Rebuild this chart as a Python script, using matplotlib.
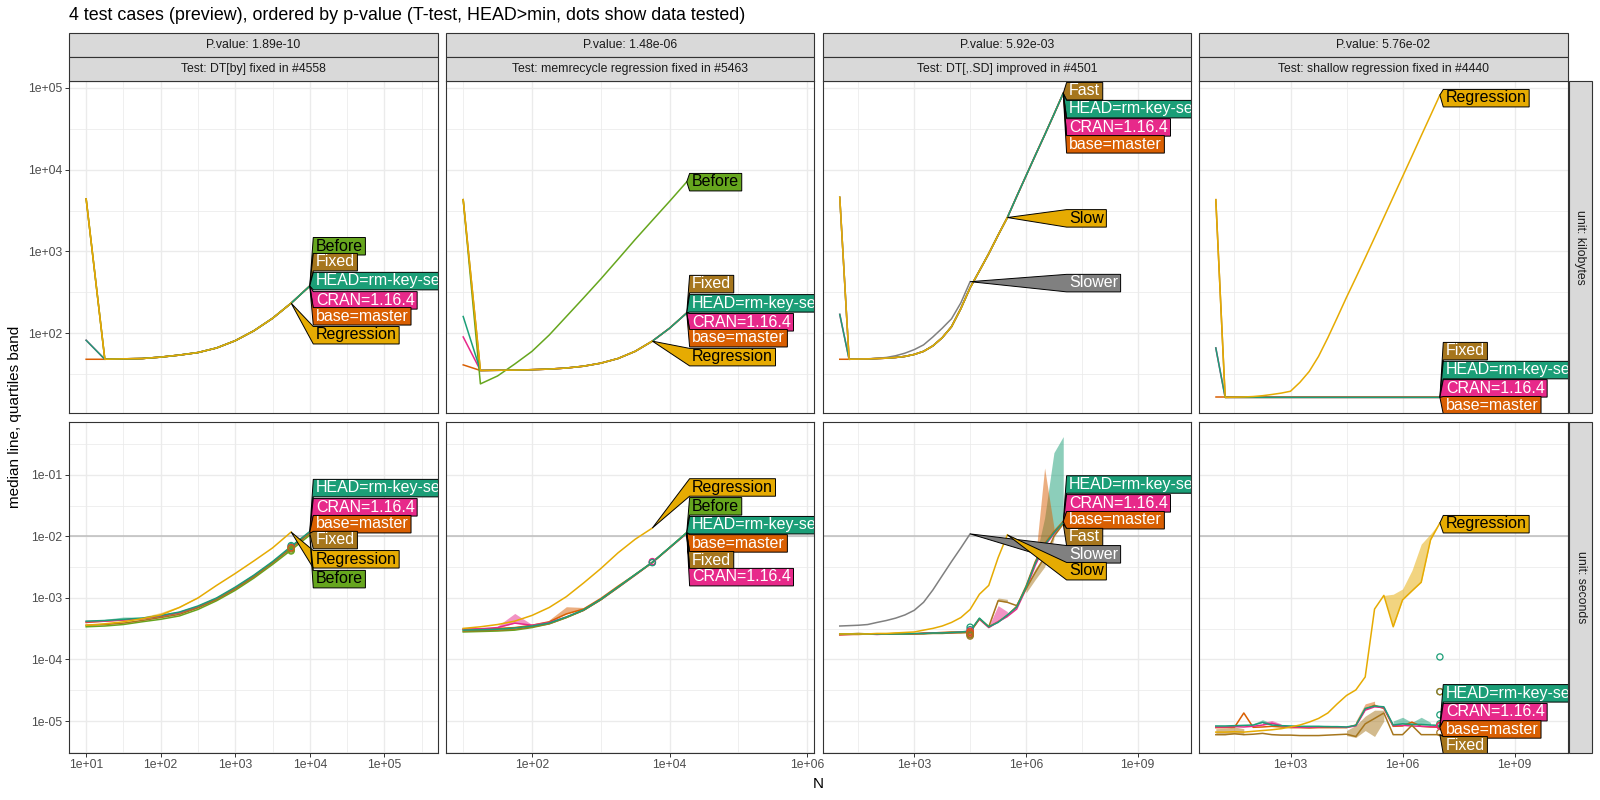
"""Recreate the atime preview chart: 4 test cases, median line and quartile band per version."""

import matplotlib

matplotlib.use("Agg")
import matplotlib.pyplot as plt
from matplotlib.patches import Polygon, Rectangle
from matplotlib.ticker import NullFormatter
from matplotlib.transforms import IdentityTransform

plt.rcParams["font.family"] = ["Liberation Sans", "DejaVu Sans"]

TITLE = "4 test cases (preview), ordered by p-value (T-test, HEAD>min, dots show data tested)"
P_VALUES = ["P.value: 1.89e-10", "P.value: 1.48e-06", "P.value: 5.92e-03", "P.value: 5.76e-02"]
TESTS = [
    "Test: DT[by] fixed in #4558",
    "Test: memrecycle regression fixed in #5463",
    "Test: DT[,.SD] improved in #4501",
    "Test: shallow regression fixed in #4440",
]
UNITS = ["unit: kilobytes", "unit: seconds"]

HEAD, CRAN, BASE = "HEAD=rm-key-set", "CRAN=1.16.4", "base=master"

COLORS = {
    HEAD: "#1B9E77", CRAN: "#E7298A", BASE: "#D95F02", "Before": "#66A61E",
    "Regression": "#E6AB02", "Slow": "#E6AB02", "Fixed": "#A6761D", "Fast": "#A6761D",
    "Slower": "#808080",
}
DARK_TEXT = {"Before", "Regression", "Slow"}
DRAW_ORDER = [BASE, CRAN, "Before", "Fixed", "Fast", HEAD, "Slower", "Slow", "Regression"]

# ---------------- column 1: DT[by] ----------------
C1_N = [10, 17.8, 31.6, 56.2, 100, 178, 316, 562, 1000, 1778, 3162, 5623, 10000]
C1_KB = {
    BASE: [48, 48, 48.6, 49, 51, 54, 58, 66, 81, 107, 152, 233, 378],
    CRAN: [82, 48, 48.6, 49, 51, 54, 58, 66, 81, 107, 152, 233, 378],
    "Before": [4400, 48, 48.6, 49, 51, 54, 58, 66, 81, 107, 152, 233, 378],
    "Fixed": [4400, 48, 48.6, 49, 51, 54, 58, 66, 81, 107, 152, 233, 378],
    HEAD: [82, 48, 48.6, 49, 51, 54, 58, 66, 81, 107, 152, 233, 378],
    "Regression": [4400, 48, 48.6, 49, 51, 54, 58, 66, 81, 107, 152, 233],
}
C1_SEC = {
    BASE: [4.0e-4, 4.2e-4, 4.4e-4, 4.6e-4, 5.0e-4, 5.7e-4, 7.1e-4, 9.6e-4, 1.42e-3, 2.25e-3, 3.75e-3, 6.6e-3, 1.17e-2],
    CRAN: [4.1e-4, 4.2e-4, 4.4e-4, 4.6e-4, 5.1e-4, 5.8e-4, 7.2e-4, 9.8e-4, 1.45e-3, 2.3e-3, 3.8e-3, 6.7e-3, 1.18e-2],
    "Before": [3.4e-4, 3.5e-4, 3.7e-4, 4.1e-4, 4.5e-4, 5.1e-4, 6.5e-4, 9.0e-4, 1.33e-3, 2.1e-3, 3.5e-3, 6.0e-3, 1.05e-2],
    "Fixed": [3.6e-4, 3.7e-4, 3.9e-4, 4.3e-4, 4.8e-4, 5.4e-4, 6.9e-4, 9.4e-4, 1.4e-3, 2.2e-3, 3.7e-3, 6.4e-3, 1.12e-2],
    HEAD: [4.2e-4, 4.3e-4, 4.5e-4, 4.7e-4, 5.2e-4, 5.9e-4, 7.4e-4, 1.0e-3, 1.5e-3, 2.35e-3, 3.9e-3, 6.9e-3, 1.2e-2],
    "Regression": [3.6e-4, 3.8e-4, 4.1e-4, 4.6e-4, 5.3e-4, 7.0e-4, 1.0e-3, 1.6e-3, 2.5e-3, 4.0e-3, 6.5e-3, 1.18e-2],
}
# (series, first index, lower or None for median, upper)
C1_BANDS = [
    (HEAD, 1, None, [4.5e-4, 4.9e-4, 4.9e-4]),
    ("Regression", 3, None, [4.9e-4, 5.8e-4, 7.4e-4, 1.05e-3]),
]
C1_DOT_N = 5623
C1_DOTS = {HEAD: [7.1e-3, 6.8e-3], "Before": [6.0e-3, 5.8e-3], CRAN: [6.6e-3], BASE: [6.5e-3], "Fixed": [6.3e-3]}
C1_LAB_KB = [("Before", 0.503), ("Fixed", 0.455), (HEAD, 0.398), (CRAN, 0.340), (BASE, 0.292), ("Regression", 0.235)]
C1_LAB_SEC = [(HEAD, 0.801), (CRAN, 0.743), (BASE, 0.692), ("Fixed", 0.644), ("Regression", 0.586), ("Before", 0.526)]

# ---------------- column 2: memrecycle ----------------
C2_N = [10, 17.8, 31.6, 56.2, 100, 178, 316, 562, 1000, 1778, 3162, 5623, 10000, 17783]
C2_KB = {
    BASE: [41, 35, 35.2, 35.4, 35.8, 36.4, 37.5, 39.5, 43, 49, 60, 80, 115, 177],
    CRAN: [90, 35, 35.2, 35.4, 35.8, 36.4, 37.5, 39.5, 43, 49, 60, 80, 115, 177],
    "Before": [4300, 24, 30, 42, 60, 95, 160, 270, 460, 800, 1400, 2400, 4100, 7100],
    "Fixed": [4300, 35, 35.2, 35.4, 35.8, 36.4, 37.5, 39.5, 43, 49, 60, 80, 115, 177],
    HEAD: [160, 35, 35.2, 35.4, 35.8, 36.4, 37.5, 39.5, 43, 49, 60, 80, 115, 177],
    "Regression": [4300, 35, 35.2, 35.4, 35.8, 36.4, 37.5, 39.5, 43, 49, 60, 80],
}
C2_SEC = {
    BASE: [3.1e-4, 3.1e-4, 3.2e-4, 3.3e-4, 3.6e-4, 4.1e-4, 5.5e-4, 6.6e-4, 9.8e-4, 1.55e-3, 2.4e-3, 3.8e-3, 6.6e-3, 1.14e-2],
    CRAN: [3.1e-4, 3.15e-4, 3.3e-4, 3.9e-4, 3.6e-4, 4.0e-4, 4.9e-4, 6.3e-4, 9.4e-4, 1.48e-3, 2.35e-3, 3.8e-3, 6.5e-3, 1.12e-2],
    "Before": [2.8e-4, 2.85e-4, 2.9e-4, 3.0e-4, 3.3e-4, 3.8e-4, 4.8e-4, 6.3e-4, 9.4e-4, 1.5e-3, 2.4e-3, 3.8e-3, 6.6e-3, 1.16e-2],
    "Fixed": [2.9e-4, 2.95e-4, 3.0e-4, 3.1e-4, 3.4e-4, 3.8e-4, 4.8e-4, 6.3e-4, 9.3e-4, 1.47e-3, 2.35e-3, 3.75e-3, 6.5e-3, 1.13e-2],
    HEAD: [3.0e-4, 3.05e-4, 3.1e-4, 3.25e-4, 3.5e-4, 3.9e-4, 4.9e-4, 6.4e-4, 9.5e-4, 1.5e-3, 2.4e-3, 3.8e-3, 6.6e-3, 1.15e-2],
    "Regression": [3.2e-4, 3.4e-4, 3.7e-4, 4.2e-4, 5.2e-4, 7.0e-4, 1.05e-3, 1.75e-3, 3.0e-3, 5.4e-3, 9.0e-3, 1.37e-2],
}
C2_BANDS = [
    (CRAN, 2, None, [3.5e-4, 5.6e-4, 3.7e-4]),
    (BASE, 5, None, [4.4e-4, 7.2e-4, 7.0e-4, 1.0e-3]),
]
C2_DOT_N = 5623
C2_DOTS = {CRAN: [3.8e-3, 3.9e-3], HEAD: [3.75e-3]}
C2_LAB_KB = [("Before", 0.696), ("Fixed", 0.389), (HEAD, 0.331), (CRAN, 0.274), (BASE, 0.226), ("Regression", 0.169)]
C2_LAB_SEC = [("Regression", 0.803), ("Before", 0.746), (HEAD, 0.689), (BASE, 0.634), ("Fixed", 0.583), (CRAN, 0.532)]

# ---------------- column 3: DT[,.SD] ----------------
C3_N = [10, 17.8, 31.6, 56.2, 100, 178, 316, 562, 1000, 1778, 3162, 5623, 1.0e4, 1.78e4, 3.16e4,
        5.62e4, 1.0e5, 1.78e5, 3.16e5, 5.62e5, 1.0e6, 1.78e6, 3.16e6, 5.62e6, 1.0e7]
C3_KB = {
    BASE: [48, 48, 48.3, 48.5, 49, 49.5, 50.5, 52, 55, 60, 70, 88, 120, 200, 360, 580, 940, 1580, 2600,
           4700, 8400, 15000, 26500, 47500, 86000],
    CRAN: [170, 48, 48.3, 48.5, 49, 49.5, 50.5, 52, 55, 60, 70, 88, 120, 200, 360, 580, 940, 1580, 2600,
           4700, 8400, 15000, 26500, 47500, 86000],
    "Fast": [4600, 48, 48.3, 48.5, 49, 49.5, 50.5, 52, 55, 60, 70, 88, 120, 200, 360, 580, 940, 1580, 2600,
             4700, 8400, 15000, 26500, 47500, 86000],
    HEAD: [170, 48, 48.3, 48.5, 49, 49.5, 50.5, 52, 55, 60, 70, 88, 120, 200, 360, 580, 940, 1580, 2600,
           4700, 8400, 15000, 26500, 47500, 86000],
    "Slower": [4600, 48, 48.3, 48.6, 49.3, 50.5, 53, 57, 63, 72, 90, 115, 150, 235, 427],
    "Slow": [4600, 48, 48.3, 48.5, 49, 49.5, 50.5, 52, 55, 60, 70, 88, 120, 200, 360, 580, 940, 1580, 2600],
}
C3_SEC = {
    BASE: [2.5e-4, 2.55e-4, 2.55e-4, 2.6e-4, 2.6e-4, 2.6e-4, 2.65e-4, 2.6e-4, 2.6e-4, 2.7e-4, 2.7e-4, 2.75e-4,
           2.8e-4, 2.8e-4, 2.85e-4, 4.6e-4, 3.4e-4, 4.1e-4, 5.2e-4, 7.3e-4, 1.55e-3, 3.9e-3, 7.6e-3, 1.2e-2, 1.75e-2],
    CRAN: [2.55e-4, 2.55e-4, 2.6e-4, 2.6e-4, 2.55e-4, 2.6e-4, 2.6e-4, 2.65e-4, 2.6e-4, 2.65e-4, 2.7e-4, 2.7e-4,
           2.7e-4, 2.8e-4, 2.85e-4, 4.5e-4, 3.3e-4, 4.1e-4, 5.0e-4, 6.6e-4, 1.4e-3, 3.4e-3, 7.0e-3, 1.1e-2, 1.65e-2],
    "Fast": [2.6e-4, 2.6e-4, 2.65e-4, 2.6e-4, 2.6e-4, 2.6e-4, 2.6e-4, 2.6e-4, 2.6e-4, 2.6e-4, 2.65e-4, 2.65e-4,
             2.7e-4, 2.7e-4, 2.75e-4, 4.6e-4, 3.4e-4, 9.0e-4, 8.5e-4, 7.5e-4, 1.4e-3, 2.6e-3, 4.6e-3, 1.0e-2, 1.6e-2],
    HEAD: [2.6e-4, 2.6e-4, 2.6e-4, 2.6e-4, 2.6e-4, 2.6e-4, 2.6e-4, 2.6e-4, 2.65e-4, 2.65e-4, 2.7e-4, 2.7e-4,
           2.75e-4, 2.8e-4, 2.9e-4, 4.7e-4, 3.4e-4, 4.0e-4, 5.3e-4, 7.1e-4, 1.5e-3, 3.7e-3, 7.3e-3, 1.15e-2, 1.7e-2],
    "Slower": [3.5e-4, 3.55e-4, 3.6e-4, 3.7e-4, 4.0e-4, 4.3e-4, 4.7e-4, 5.3e-4, 6.3e-4, 8.5e-4, 1.35e-3, 2.3e-3,
               3.9e-3, 6.5e-3, 1.1e-2],
    "Slow": [2.6e-4, 2.6e-4, 2.6e-4, 2.6e-4, 2.65e-4, 2.65e-4, 2.7e-4, 2.75e-4, 2.8e-4, 3.0e-4, 3.2e-4, 3.5e-4,
             4.0e-4, 4.8e-4, 6.5e-4, 1.15e-3, 1.6e-3, 4.5e-3, 1.06e-2],
}
C3_BANDS = [
    (HEAD, 21, None, [4.2e-3, 2.0e-2, 0.23, 0.42]),
    (BASE, 20, None, [1.7e-3, 4.2e-3, 0.13, 1.4e-2]),
    ("Fast", 16, None, [3.6e-4, 1.0e-3, 9.5e-4]),
    ("Fast", 20, [1.2e-3, 2.0e-3, 3.2e-3, 9.0e-3], [1.5e-3, 3.0e-3, 5.0e-3, 1.05e-2]),
    (CRAN, 16, None, [3.5e-4, 7.5e-4, 6.0e-4]),
]
C3_DOT_N = 31600
C3_DOTS = {HEAD: [2.5e-4, 2.75e-4, 3.05e-4, 3.35e-4], CRAN: [2.7e-4, 2.9e-4], BASE: [2.6e-4, 2.8e-4],
           "Fast": [2.4e-4, 2.55e-4]}
C3_LAB_KB = [("Fast", 0.970), (HEAD, 0.916), (CRAN, 0.861), (BASE, 0.810), ("Slow", 0.587), ("Slower", 0.392)]
C3_LAB_SEC = [(HEAD, 0.812), (CRAN, 0.755), (BASE, 0.704), ("Fast", 0.653), ("Slower", 0.601), ("Slow", 0.550)]

# ---------------- column 4: shallow ----------------
C4_N = [10, 17.8, 31.6, 56.2, 100, 178, 316, 562, 1000, 1778, 3162, 5623, 1.0e4, 1.78e4, 3.16e4,
        5.62e4, 1.0e5, 1.78e5, 3.16e5, 5.62e5, 1.0e6, 1.78e6, 3.16e6, 5.62e6, 1.0e7]
C4_KB = {
    BASE: [16.4, 16.4, 16.4, 16.4, 16.4, 16.4, 16.4, 16.4, 16.4, 16.4, 16.4, 16.4, 16.4, 16.4, 16.4,
           16.4, 16.4, 16.4, 16.4, 16.4, 16.4, 16.4, 16.4, 16.4, 16.4],
    CRAN: [66, 16.4, 16.4, 16.4, 16.4, 16.4, 16.4, 16.4, 16.4, 16.4, 16.4, 16.4, 16.4, 16.4, 16.4,
           16.4, 16.4, 16.4, 16.4, 16.4, 16.4, 16.4, 16.4, 16.4, 16.4],
    "Fixed": [4300, 16.4, 16.4, 16.4, 16.4, 16.4, 16.4, 16.4, 16.4, 16.4, 16.4, 16.4, 16.4, 16.4, 16.4,
              16.4, 16.4, 16.4, 16.4, 16.4, 16.4, 16.4, 16.4, 16.4, 16.4],
    HEAD: [66, 16.4, 16.4, 16.4, 16.4, 16.4, 16.4, 16.4, 16.4, 16.4, 16.4, 16.4, 16.4, 16.4, 16.4,
           16.4, 16.4, 16.4, 16.4, 16.4, 16.4, 16.4, 16.4, 16.4, 16.4],
    "Regression": [4300, 16.4, 16.5, 16.6, 16.8, 17.2, 17.8, 18.5, 19.5, 25, 34, 52, 88, 155, 275,
                   477, 835, 1475, 2610, 4630, 8220, 14600, 26000, 46100, 82000],
}
C4_SEC = {
    BASE: [7.8e-6, 7.8e-6, 7.9e-6, 1.35e-5, 7.9e-6, 8.0e-6, 8.2e-6, 8.0e-6, 7.8e-6, 7.8e-6, 7.7e-6, 7.8e-6,
           7.8e-6, 7.8e-6, 7.8e-6, 8.6e-6, 1.55e-5, 1.8e-5, 1.6e-5, 8.2e-6, 8.3e-6, 9.6e-6, 8.2e-6, 8.0e-6, 7.9e-6],
    CRAN: [8.0e-6, 8.0e-6, 8.1e-6, 8.0e-6, 8.2e-6, 8.6e-6, 9.2e-6, 8.4e-6, 8.0e-6, 7.9e-6, 7.9e-6, 8.0e-6,
           8.1e-6, 8.0e-6, 7.9e-6, 8.3e-6, 1.5e-5, 1.7e-5, 1.65e-5, 8.4e-6, 8.5e-6, 8.3e-6, 8.2e-6, 8.1e-6, 8.0e-6],
    "Fixed": [6.0e-6, 6.0e-6, 6.2e-6, 6.0e-6, 6.1e-6, 6.3e-6, 6.0e-6, 5.9e-6, 5.9e-6, 5.8e-6, 5.8e-6, 5.8e-6,
              5.9e-6, 6.0e-6, 6.1e-6, 5.6e-6, 9.0e-6, 1.1e-5, 1.35e-5, 6.0e-6, 6.0e-6, 8.5e-6, 6.0e-6, 6.0e-6, 6.0e-6],
    HEAD: [8.3e-6, 8.3e-6, 8.4e-6, 8.5e-6, 8.6e-6, 9.5e-6, 8.6e-6, 8.4e-6, 8.3e-6, 8.2e-6, 8.2e-6, 8.2e-6,
           8.1e-6, 8.1e-6, 8.0e-6, 8.5e-6, 1.6e-5, 1.75e-5, 1.7e-5, 8.6e-6, 9.0e-6, 8.8e-6, 8.8e-6, 8.6e-6, 8.5e-6],
    "Regression": [6.6e-6, 6.6e-6, 6.7e-6, 6.6e-6, 6.8e-6, 7.0e-6, 7.2e-6, 7.5e-6, 8.0e-6, 8.6e-6, 9.6e-6, 1.1e-5,
                   1.35e-5, 1.9e-5, 2.6e-5, 3.2e-5, 5.2e-5, 6.6e-4, 1.1e-3, 3.4e-4, 9.3e-4, 1.3e-3, 1.8e-3,
                   8.8e-3, 1.66e-2],
}
C4_BANDS = [
    ("Regression", 18, None, [1.1e-3, 1.15e-3, 1.4e-3, 2.8e-3, 7.5e-3, 1.1e-2, 1.7e-2]),
    (HEAD, 4, None, [9.0e-6, 1.05e-5, 9.2e-6]),
    (HEAD, 19, None, [1.0e-5, 1.15e-5, 9.5e-6, 1.15e-5, 9.5e-6]),
    (CRAN, 5, None, [9.5e-6, 1.02e-5, 9.0e-6]),
    (BASE, 15, None, [1.0e-5, 1.9e-5, 2.1e-5]),
    ("Fixed", 0, None, [7.5e-6, 7.6e-6, 8.0e-6, 7.5e-6]),
    ("Fixed", 14, [5.8e-6, 5.4e-6, 7.0e-6, 5.6e-6, 1.0e-5], [7.0e-6, 8.5e-6, 1.2e-5, 1.5e-5, 1.5e-5]),
]
C4_DOT_N = 1.0e7
C4_DOTS = {HEAD: [1.1e-4, 3.0e-5, 1.26e-5, 9.0e-6], "Fixed": [3.0e-5, 6.5e-6], BASE: [8.5e-6], CRAN: [8.3e-6]}
C4_LAB_KB = [("Regression", 0.949), ("Fixed", 0.187), (HEAD, 0.130), (CRAN, 0.075), (BASE, 0.024)]
C4_LAB_SEC = [("Regression", 0.692), (HEAD, 0.181), (CRAN, 0.124), (BASE, 0.072), ("Fixed", 0.024)]

PANELS = [
    dict(N=C1_N, kb=C1_KB, sec=C1_SEC, bands=C1_BANDS, dot_n=C1_DOT_N, dots=C1_DOTS,
         lab_kb=C1_LAB_KB, lab_sec=C1_LAB_SEC, xlim=(10 ** 0.77, 10 ** 5.72),
         xmajor=[1e1, 1e2, 1e3, 1e4, 1e5], xminor=[10 ** 1.5, 10 ** 2.5, 10 ** 3.5, 10 ** 4.5, 10 ** 5.5]),
    dict(N=C2_N, kb=C2_KB, sec=C2_SEC, bands=C2_BANDS, dot_n=C2_DOT_N, dots=C2_DOTS,
         lab_kb=C2_LAB_KB, lab_sec=C2_LAB_SEC, xlim=(10 ** 0.75, 10 ** 6.1),
         xmajor=[1e2, 1e4, 1e6], xminor=[1e1, 1e3, 1e5]),
    dict(N=C3_N, kb=C3_KB, sec=C3_SEC, bands=C3_BANDS, dot_n=C3_DOT_N, dots=C3_DOTS,
         lab_kb=C3_LAB_KB, lab_sec=C3_LAB_SEC, xlim=(10 ** 0.55, 10 ** 10.43),
         xmajor=[1e3, 1e6, 1e9], xminor=[10 ** 1.5, 10 ** 4.5, 10 ** 7.5]),
    dict(N=C4_N, kb=C4_KB, sec=C4_SEC, bands=C4_BANDS, dot_n=C4_DOT_N, dots=C4_DOTS,
         lab_kb=C4_LAB_KB, lab_sec=C4_LAB_SEC, xlim=(10 ** 0.55, 10 ** 10.43),
         xmajor=[1e3, 1e6, 1e9], xminor=[10 ** 1.5, 10 ** 4.5, 10 ** 7.5]),
]
ROW_YLIM = [(10 ** 1.024, 10 ** 5.085), (10 ** -5.52, 10 ** -0.14)]
ROW_YMAJOR = [[1e2, 1e3, 1e4, 1e5], [1e-5, 1e-4, 1e-3, 1e-2, 1e-1]]
ROW_YMINOR = [[10 ** 1.5, 10 ** 2.5, 10 ** 3.5, 10 ** 4.5],
              [10 ** -5.5, 10 ** -4.5, 10 ** -3.5, 10 ** -2.5, 10 ** -1.5, 10 ** -0.5]]
SECONDS_HLINE = 1e-2

# ---------------- layout (pixels, from top-left) ----------------
W, H = 1600, 800
COL_X = [(69, 438), (446, 814), (823, 1191), (1199, 1568)]
ROW_Y = [(81, 413), (422, 753)]
LABEL_X = 0.662
GRID = "#EBEBEB"
BORDER = "#333333"


def fig_rect(x0, y0, x1, y1):
    return [x0 / W, 1 - y1 / H, (x1 - x0) / W, (y1 - y0) / H]


def strip(fig, x0, y0, x1, y1, text, rotation=0):
    l, b, w, h = fig_rect(x0, y0, x1, y1)
    fig.add_artist(Rectangle((l, b), w, h, transform=fig.transFigure,
                             facecolor="#D9D9D9", edgecolor=BORDER, linewidth=0.8))
    fig.text(l + w / 2, b + h / 2, text, ha="center", va="center", fontsize=8.8,
             color="#1A1A1A", rotation=rotation)


fig = plt.figure(figsize=(16, 8), dpi=100)
pending = []

for c, panel in enumerate(PANELS):
    x0, x1 = COL_X[c]
    strip(fig, x0, 33, x1, 57, P_VALUES[c])
    strip(fig, x0, 57, x1, 81, TESTS[c])
    for r in range(2):
        y0, y1 = ROW_Y[r]
        ax = fig.add_axes(fig_rect(x0, y0, x1, y1))
        ax.set_xscale("log")
        ax.set_yscale("log")
        ax.set_xlim(*panel["xlim"])
        ax.set_ylim(*ROW_YLIM[r])

        ax.set_xticks(panel["xmajor"], labels=[f"{v:.0e}" for v in panel["xmajor"]])
        ax.set_xticks(panel["xminor"], minor=True)
        ax.set_yticks(ROW_YMAJOR[r], labels=[f"{v:.0e}" for v in ROW_YMAJOR[r]])
        ax.set_yticks(ROW_YMINOR[r], minor=True)
        ax.xaxis.set_minor_formatter(NullFormatter())
        ax.yaxis.set_minor_formatter(NullFormatter())
        ax.grid(which="major", color=GRID, linewidth=1.0, zorder=0)
        ax.grid(which="minor", color=GRID, linewidth=0.55, zorder=0)
        ax.set_axisbelow(True)
        ax.tick_params(which="minor", length=0)
        ax.tick_params(which="major", length=3.0, width=0.7, color=BORDER,
                       labelsize=8.8, labelcolor="#4D4D4D", pad=1.5)
        ax.tick_params(axis="x", bottom=(r == 1), labelbottom=(r == 1))
        ax.tick_params(axis="y", left=(c == 0), labelleft=(c == 0))
        for sp in ax.spines.values():
            sp.set_color(BORDER)
            sp.set_linewidth(0.8)
            sp.set_zorder(7)

        N = panel["N"]
        values = panel["kb"] if r == 0 else panel["sec"]

        if r == 1:
            ax.axhline(SECONDS_HLINE, color="#BDBDBD", linewidth=1.1, zorder=1)
            for name, i0, lo, hi in panel["bands"]:
                xs = N[i0:i0 + len(hi)]
                low = lo if lo is not None else values[name][i0:i0 + len(hi)]
                ax.fill_between(xs, low, hi, color=COLORS[name], alpha=0.5, linewidth=0, zorder=1.5)

        for name in DRAW_ORDER:
            if name in values:
                ys = values[name]
                ax.plot(N[:len(ys)], ys, color=COLORS[name], linewidth=1.1, zorder=2,
                        solid_joinstyle="round")

        if r == 1:
            for name, ys in panel["dots"].items():
                ax.scatter([panel["dot_n"]] * len(ys), ys, s=20, facecolors="none",
                           edgecolors=COLORS[name], linewidths=0.9, zorder=3)

        for name, yfrac in (panel["lab_kb"] if r == 0 else panel["lab_sec"]):
            ys = values[name]
            anchor = (N[len(ys) - 1], ys[-1])
            txt = ax.text(LABEL_X + 2.5 / (x1 - x0), yfrac, name, transform=ax.transAxes,
                          ha="left", va="center", fontsize=11.5, clip_on=True, zorder=6,
                          color="black" if name in DARK_TEXT else "white")
            pending.append((ax, txt, anchor, COLORS[name]))

    if c == 3:
        for r in range(2):
            y0, y1 = ROW_Y[r]
            strip(fig, 1569, y0, 1592, y1, UNITS[r], rotation=-90)

fig.text(69 / W, 1 - 16 / H, TITLE, ha="left", va="center", fontsize=12.9)
fig.text(818 / W, 1 - 784 / H, "N", ha="center", va="center", fontsize=11)
fig.text(15 / W, 1 - 417 / H, "median line, quartiles band", ha="center", va="center",
         fontsize=11, rotation=90)

# second pass: draw direct-label polygons around the measured text boxes
fig.canvas.draw()
renderer = fig.canvas.get_renderer()
for ax, txt, anchor, color in pending:
    bb = txt.get_window_extent(renderer)
    left, right = bb.x0 - 2.5, bb.x1 + 2.5
    bottom, top = bb.y0 - 1.5, bb.y1 + 1.0
    px, py = ax.transData.transform(anchor)
    poly = Polygon([(px, py), (left, top), (right, top), (right, bottom), (left, bottom)],
                   closed=True, transform=IdentityTransform(), facecolor=color,
                   edgecolor="black", linewidth=0.7, zorder=5)
    ax.add_artist(poly)

fig.savefig("out.png", dpi=100)
